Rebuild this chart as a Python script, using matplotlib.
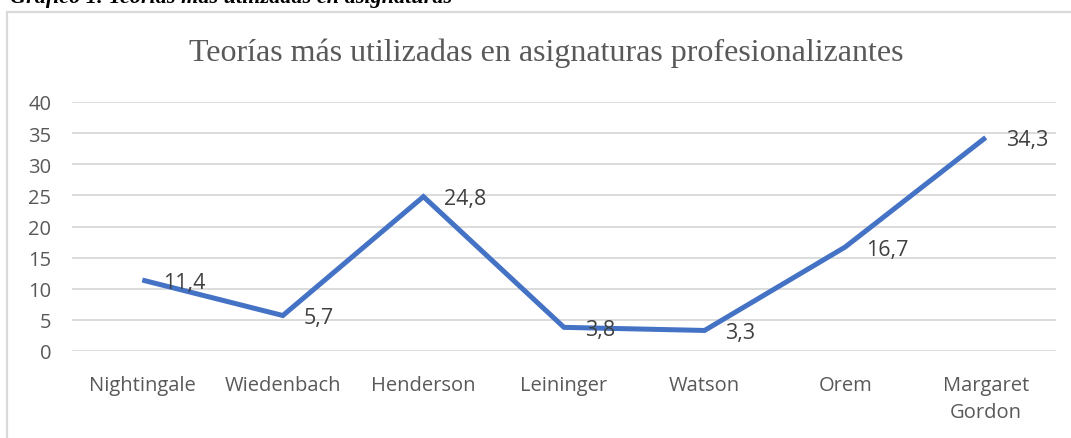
import matplotlib
matplotlib.use("Agg")
import matplotlib.pyplot as plt
from matplotlib.patches import Rectangle

# data
teorias = ["Nightingale", "Wiedenbach", "Henderson", "Leininger", "Watson", "Orem", "Margaret\nGordon"]
porcentajes = [11.4, 5.7, 24.8, 3.8, 3.3, 16.7, 34.3]
y_ticks = [0, 5, 10, 15, 20, 25, 30, 35, 40]

W, H = 1071, 439
fig = plt.figure(figsize=(W / 100, H / 100), dpi=100)
fig.patch.set_facecolor("white")

# chart area frame (cut at right and bottom, like the screenshot)
fig.add_artist(Rectangle((7 / W, -0.2), 1.2, (H - 13) / H + 0.2, transform=fig.transFigure,
                         fill=False, edgecolor="#D9D9D9", linewidth=1.6, clip_on=False))

# caption above the chart, mostly cut by the top edge
fig.text(10 / W, 1 - 3 / H, "Gráfico 1. Teorías más utilizadas en asignaturas",
         family="Liberation Serif", weight="bold", style="italic", fontsize=16,
         color="black", va="baseline", ha="left")

ax = fig.add_axes([72 / W, 1 - 352 / H, (1056 - 72) / W, (352 - 103) / H])
x = list(range(len(teorias)))
ax.plot(x, porcentajes, color="#4472C4", linewidth=3.6, solid_capstyle="butt",
        solid_joinstyle="miter", zorder=3)

for xi, v in zip(x, porcentajes):
    ax.annotate(f"{v:.1f}".replace(".", ","), (xi, v), xytext=(15, -1.5),
                textcoords="offset points", ha="left", va="center",
                family="Open Sans", fontsize=15.5, color="#404040", zorder=4)

ax.set_xlim(-0.5, len(teorias) - 0.5)
ax.set_ylim(0, 40)
ax.set_yticks(y_ticks)
ax.set_xticks(x)
ax.set_xticklabels(teorias, family="Open Sans", fontsize=14.5, color="#595959", linespacing=1.5)
ax.set_yticklabels([str(t) for t in y_ticks], family="Open Sans", fontsize=14.5, color="#595959")
ax.tick_params(axis="both", length=0)
ax.tick_params(axis="y", pad=15)
ax.tick_params(axis="x", pad=17)
for s in ax.spines.values():
    s.set_visible(False)
ax.grid(axis="y", color="#D9D9D9", linewidth=1.3)
ax.set_axisbelow(True)

fig.text(546 / W, 1 - 53 / H, "Teorías más utilizadas en asignaturas profesionalizantes",
         family="Liberation Serif", fontsize=23, color="#595959", ha="center", va="center")

fig.savefig("out.png", dpi=100)
